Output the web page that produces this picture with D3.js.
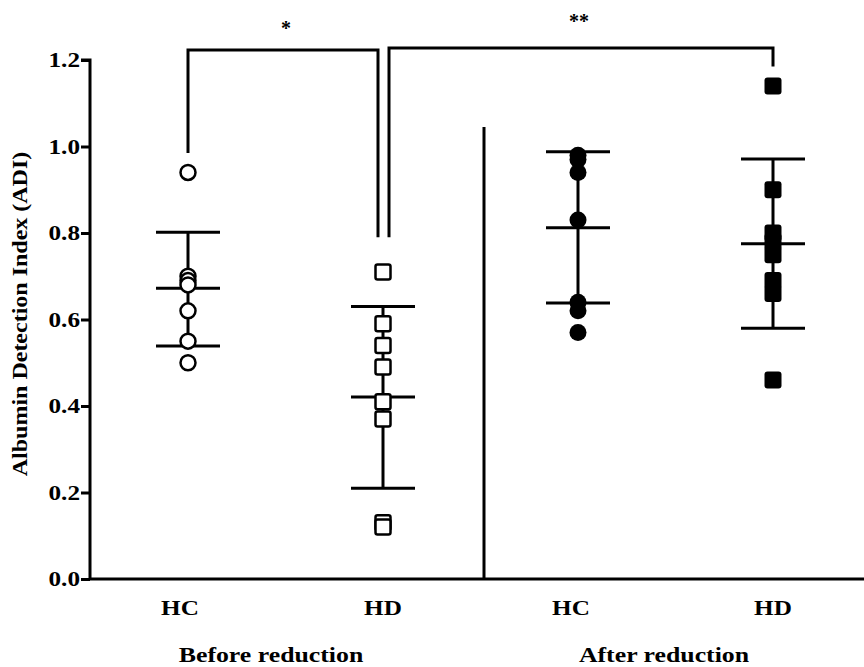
<!DOCTYPE html>
<html><head><meta charset="utf-8">
<script src="https://cdn.jsdelivr.net/npm/d3@7"></script>
<style>body{margin:0;background:#fff}</style>
</head><body>
<svg id="c" width="864" height="667"></svg>
<script>
const groupIds = ["HC_before","HD_before","HC_after","HD_after"];
const groupLabels = ["HC","HD","HC","HD"];
const phaseLabels = ["Before reduction","After reduction"];
const hcBefore = [0.94, 0.70, 0.69, 0.68, 0.62, 0.55, 0.50];
const hdBefore = [0.71, 0.59, 0.54, 0.49, 0.41, 0.37, 0.13, 0.12];
const hcAfter  = [0.98, 0.97, 0.94, 0.83, 0.64, 0.62, 0.57];
const hdAfter  = [1.14, 0.90, 0.80, 0.78, 0.75, 0.69, 0.66, 0.46];
const means = [0.672, 0.421, 0.812, 0.775];
const upper = [0.802, 0.630, 0.988, 0.971];
const lower = [0.539, 0.210, 0.638, 0.580];
const yTicks = [0.0, 0.2, 0.4, 0.6, 0.8, 1.0, 1.2];
const yTitle = "Albumin Detection Index (ADI)";

const svg = d3.select("#c");
const FONT = "'Liberation Serif','Times New Roman',serif";
const SX = 1.2;
const x = d3.scalePoint().domain(groupIds).range([188, 773]);
const y = d3.scaleLinear().domain([0, 1.2]).range([579, 60]);
const axisX = 90;

// axes
const yAxis = d3.axisLeft(y).tickValues(yTicks).tickSize(9).tickFormat(() => "");
const gy = svg.append("g").attr("transform", `translate(${axisX},0)`).call(yAxis);
gy.select(".domain").attr("d", `M-9,${y(1.2)}H0V${y(0)}`).attr("stroke","#000").attr("stroke-width",3).attr("fill","none");
gy.selectAll(".tick line").attr("stroke","#000").attr("stroke-width",3);
yTicks.forEach(t => {
  svg.append("text").attr("transform", `translate(80,${y(t)}) scale(${SX},1)`)
    .attr("text-anchor","end").attr("dominant-baseline","central")
    .attr("font-family",FONT).attr("font-weight","bold").attr("font-size",21)
    .text(t.toFixed(1));
});
svg.append("line").attr("x1",axisX).attr("x2",864).attr("y1",y(0)).attr("y2",y(0))
  .attr("stroke","#000").attr("stroke-width",3);

// y title
svg.append("text").attr("transform", `translate(27,314) rotate(-90) scale(${SX},1)`)
  .attr("text-anchor","middle").attr("font-family",FONT).attr("font-weight","bold").attr("font-size",20)
  .text(yTitle);

// separator
const sepX = (x("HD_before") + x("HC_after"))/2 + 3.5;
svg.append("line").attr("x1",sepX).attr("x2",sepX).attr("y1",y(1.045)).attr("y2",y(0))
  .attr("stroke","#000").attr("stroke-width",3);

// x labels
const labOff = [-8, 0, -7, 0];
groupIds.forEach((g,i) => {
  svg.append("text").attr("transform", `translate(${x(g)+labOff[i]},615) scale(${SX},1)`)
    .attr("text-anchor","middle").attr("font-family",FONT).attr("font-weight","bold").attr("font-size",21)
    .text(groupLabels[i]);
});
svg.append("text").attr("transform", `translate(271,662) scale(${SX},1)`)
  .attr("text-anchor","middle").attr("font-family",FONT).attr("font-weight","bold").attr("font-size",21.5)
  .text(phaseLabels[0]);
svg.append("text").attr("transform", `translate(664,662) scale(${SX},1)`)
  .attr("text-anchor","middle").attr("font-family",FONT).attr("font-weight","bold").attr("font-size",21.5)
  .text(phaseLabels[1]);

// error bars
const cap = 32;
groupIds.forEach((g,i) => {
  const cx = x(g);
  const gg = svg.append("g").attr("stroke","#000").attr("stroke-width",3);
  gg.append("line").attr("x1",cx).attr("x2",cx).attr("y1",y(upper[i])).attr("y2",y(lower[i]));
  [upper[i], means[i], lower[i]].forEach(v => {
    gg.append("line").attr("x1",cx-cap).attr("x2",cx+cap).attr("y1",y(v)).attr("y2",y(v));
  });
});

// HC before: open circles
svg.append("g").selectAll("circle").data(hcBefore).join("circle")
  .attr("cx", x("HC_before")).attr("cy", d => y(d)).attr("r", 7.5)
  .attr("fill","#fff").attr("stroke","#000").attr("stroke-width",2.5);
// HD before: open squares
svg.append("g").selectAll("rect").data(hdBefore).join("rect")
  .attr("x", x("HD_before")-7.5).attr("y", d => y(d)-7.5).attr("width",15).attr("height",15).attr("rx",2)
  .attr("fill","#fff").attr("stroke","#000").attr("stroke-width",2.5);
// HC after: filled circles
svg.append("g").selectAll("circle").data(hcAfter).join("circle")
  .attr("cx", x("HC_after")).attr("cy", d => y(d)).attr("r", 8.5).attr("fill","#000");
// HD after: filled squares
svg.append("g").selectAll("rect").data(hdAfter).join("rect")
  .attr("x", x("HD_after")-8.5).attr("y", d => y(d)-8.5).attr("width",17).attr("height",17).attr("rx",3)
  .attr("fill","#000");

// significance brackets
const b = svg.append("g").attr("stroke","#000").attr("stroke-width",3).attr("fill","none");
const x1a = x("HC_before"), x1b = x("HD_before") - 5;
const x2a = x("HD_before") + 6, x2b = x("HD_after");
const yb1 = 50, yb2 = 48;
b.append("path").attr("d", `M${x1a},${y(0.985)}V${yb1}H${x1b}V${y(0.79)}`);
b.append("path").attr("d", `M${x2a},${y(0.79)}V${yb2}H${x2b}V${y(1.185)}`);
svg.append("text").attr("x",(x1a+x1b)/2+3).attr("y",35).attr("text-anchor","middle")
  .attr("font-family",FONT).attr("font-weight","bold").attr("font-size",20).text("*");
svg.append("text").attr("x",(x2a+x2b)/2-2).attr("y",28).attr("text-anchor","middle")
  .attr("font-family",FONT).attr("font-weight","bold").attr("font-size",20).text("**");
</script>
</body></html>
